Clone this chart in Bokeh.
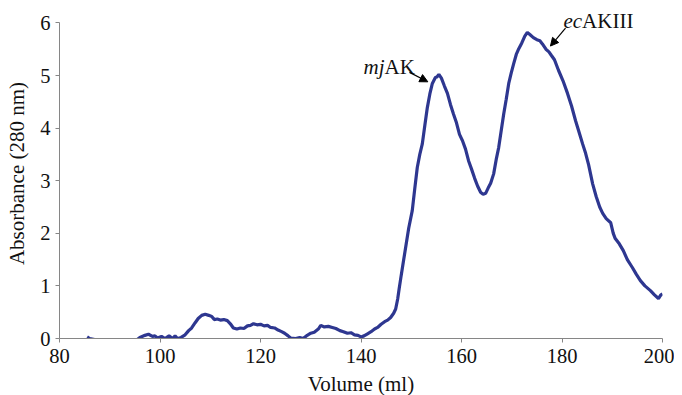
from bokeh.plotting import figure
from bokeh.models import Range1d, Label, Arrow, NormalHead
from bokeh.embed import file_html
from bokeh.resources import INLINE

# Elution profile
volume_ml = [85.5, 86.0, 87.0, 87.7, 90.0, 93.0, 95.5, 96.0, 97.0, 97.7, 98.5, 99.0, 99.5,
             100.3, 101.0, 101.8, 102.5, 103.0, 103.5, 104.2, 105.0, 105.7, 106.3, 107.0,
             107.6, 108.3, 109.0, 109.7, 110.3, 110.8, 111.4, 112.0, 112.7, 113.4, 114.0,
             114.6, 115.3, 116.0, 116.7, 117.4, 118.0, 118.6, 119.3, 120.0, 120.7, 121.4,
             122.0, 122.8, 123.5, 124.2, 124.8, 125.5, 126.0, 127.0, 127.8, 128.5, 129.3,
             130.0, 130.7, 131.5, 132.0, 132.7, 133.5, 134.3, 135.0, 135.8, 136.5, 137.3,
             138.0, 138.7, 139.4, 140.0, 140.6, 141.3, 142.0, 142.7, 143.3, 144.0, 144.7,
             145.3, 145.9, 146.5, 146.9, 147.3, 147.6, 148.0, 148.5, 149.0, 149.5, 150.2,
             150.7, 151.2, 151.7, 152.2, 152.7, 153.2, 153.7, 154.2, 154.8, 155.1, 155.5,
             156.0, 156.6, 157.2, 157.8, 158.4, 159.0, 159.6, 160.2, 160.8, 161.4, 162.0,
             162.6, 163.2, 163.8, 164.3, 164.8, 165.3, 165.8, 166.4, 166.9, 167.4, 167.9,
             168.4, 168.9, 169.4, 169.9, 170.4, 170.9, 171.4, 172.0, 172.6, 173.1, 173.6,
             174.3, 175.0, 175.6, 176.1, 176.8, 177.4, 177.9, 178.5, 179.3, 180.2, 181.1,
             181.9, 182.7, 183.4, 184.1, 184.7, 185.3, 186.1, 186.8, 187.5, 188.1, 188.8,
             189.7, 190.2, 190.6, 191.4, 192.2, 193.0, 194.0, 194.8, 195.6, 196.5, 197.6,
             198.4, 199.2, 199.6, 200.0]
absorbance = [0.03, 0.00, -0.02, -0.05, -0.30, -0.20, -0.02, 0.02, 0.06, 0.08, 0.04, 0.05, 0.01,
              0.04, 0.00, 0.05, 0.00, 0.05, 0.00, 0.02, 0.07, 0.15, 0.20, 0.30,
              0.38, 0.44, 0.46, 0.44, 0.42, 0.36, 0.37, 0.35, 0.36, 0.34, 0.28,
              0.20, 0.18, 0.20, 0.19, 0.24, 0.25, 0.28, 0.26, 0.27, 0.24, 0.25,
              0.21, 0.20, 0.16, 0.13, 0.10, 0.05, 0.01, 0.00, 0.02, 0.00, 0.06,
              0.10, 0.12, 0.18, 0.25, 0.22, 0.23, 0.21, 0.19, 0.15, 0.13, 0.10,
              0.11, 0.07, 0.06, 0.03, 0.05, 0.09, 0.13, 0.18, 0.21, 0.27, 0.32,
              0.35, 0.40, 0.48, 0.56, 0.75, 0.95, 1.20, 1.50, 1.80, 2.10, 2.43,
              2.85, 3.25, 3.50, 3.70, 4.05, 4.39, 4.65, 4.85, 4.96, 4.97, 5.02,
              4.95, 4.80, 4.66, 4.45, 4.27, 4.10, 3.88, 3.76, 3.60, 3.38, 3.22,
              3.05, 2.90, 2.78, 2.74, 2.76, 2.86, 2.95, 3.13, 3.40, 3.63, 3.95,
              4.27, 4.55, 4.85, 5.05, 5.23, 5.40, 5.51, 5.62, 5.75, 5.82, 5.78,
              5.72, 5.68, 5.66, 5.60, 5.50, 5.45, 5.38, 5.30, 5.10, 4.90, 4.66,
              4.42, 4.14, 3.92, 3.70, 3.52, 3.30, 2.94, 2.70, 2.50, 2.38, 2.28,
              2.20, 2.00, 1.90, 1.80, 1.67, 1.50, 1.35, 1.22, 1.10, 1.00, 0.91,
              0.83, 0.76, 0.82, 0.85]

x_ticks = [80, 100, 120, 140, 160, 180, 200]
y_ticks = [0, 1, 2, 3, 4, 5, 6]

FONT = "Liberation Serif"
LINE_COLOR = "#2E3790"
AXIS_COLOR = "#868686"

p = figure(frame_width=603, frame_height=330, output_backend="svg", toolbar_location=None,
           x_range=Range1d(80, 200), y_range=Range1d(0, 6.274),
           min_border_left=59, min_border_right=12, min_border_top=8, min_border_bottom=49)
p.outline_line_color = None
p.grid.visible = False
p.background_fill_color = "white"
p.border_fill_color = "white"

p.line(volume_ml, absorbance, line_color=LINE_COLOR, line_width=3.2)

for ax in (p.xaxis[0], p.yaxis[0]):
    ax.axis_line_color = AXIS_COLOR
    ax.major_tick_line_color = AXIS_COLOR
    ax.minor_tick_line_color = None
    ax.major_tick_out = 4
    ax.major_tick_in = 0
    ax.major_label_text_font = FONT
    ax.major_label_text_font_size = "20.5px"
    ax.major_label_text_color = "#111111"
    ax.axis_label_text_font = FONT
    ax.axis_label_text_font_size = "21px"
    ax.axis_label_text_font_style = "normal"
    ax.axis_label_text_color = "#111111"

p.xaxis.ticker = x_ticks
p.yaxis.ticker = y_ticks
p.yaxis.bounds = (0, 6)
p.xaxis.axis_label = "Volume (ml)"
p.yaxis.axis_label = "Absorbance (280 nm)"
p.xaxis.major_label_standoff = 6
p.yaxis.major_label_standoff = 5
p.xaxis.axis_label_standoff = 6
p.yaxis.axis_label_standoff = 8

# Annotations
lab_kw = dict(text_font=FONT, text_font_size="21px", text_color="#111111",
              text_baseline="alphabetic")
p.add_layout(Label(x=140.5, y=5.17, text="mj", text_font_style="italic", **lab_kw))
p.add_layout(Label(x=144.7, y=5.17, text="AK", **lab_kw))
p.add_layout(Label(x=180.3, y=6.03, text="ec", text_font_style="italic", **lab_kw))
p.add_layout(Label(x=184.0, y=6.03, text="AKIII", **lab_kw))

head = dict(size=8, fill_color="black", line_color="black")
p.add_layout(Arrow(end=NormalHead(**head), x_start=149.65, y_start=5.06,
                   x_end=153.3, y_end=4.88, line_width=1.2, line_color="black"))
p.add_layout(Arrow(end=NormalHead(**head), x_start=180.7, y_start=5.9,
                   x_end=177.7, y_end=5.56, line_width=1.2, line_color="black"))

open("out.html", "w").write(file_html(p, INLINE))
